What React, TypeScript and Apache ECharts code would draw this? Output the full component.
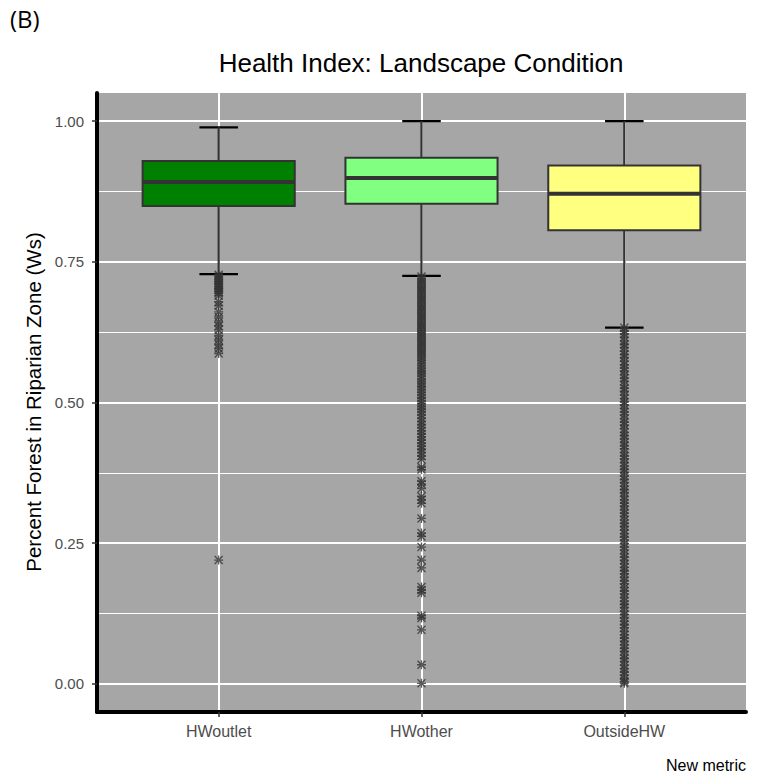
import React, { useEffect, useRef } from "react";
import * as echarts from "echarts";

const categories = ["HWoutlet", "HWother", "OutsideHW"];
const boxColors = ["#008000", "#80FF80", "#FFFF80"];
// [lowerWhisker, q1, median, q3, upperWhisker]
const boxStats = [
  [0.728, 0.849, 0.892, 0.929, 0.989],
  [0.725, 0.853, 0.899, 0.935, 1.0],
  [0.633, 0.806, 0.871, 0.921, 1.0],
];
const outliersHWoutlet = [
  0.727, 0.724, 0.721, 0.718, 0.715, 0.712, 0.709, 0.706, 0.703, 0.7, 0.697, 0.694, 0.69,
  0.679, 0.672, 0.661, 0.652, 0.643, 0.636, 0.629, 0.619, 0.611, 0.603, 0.596, 0.587, 0.22,
];
const outliersHWother = [
  0.724, 0.72, 0.716, 0.712, 0.708, 0.704, 0.7, 0.696, 0.692, 0.688, 0.684, 0.68, 0.676, 0.672,
  0.668, 0.664, 0.66, 0.656, 0.652, 0.648, 0.644, 0.64, 0.636, 0.632, 0.628, 0.624, 0.62, 0.616,
  0.612, 0.608, 0.604, 0.6, 0.596, 0.592, 0.588, 0.584, 0.58, 0.575, 0.57, 0.566, 0.561, 0.556,
  0.552, 0.547, 0.542, 0.537, 0.533, 0.528, 0.523, 0.518, 0.513, 0.508, 0.503, 0.498, 0.493,
  0.488, 0.483, 0.478, 0.472, 0.466, 0.461, 0.455, 0.45, 0.444, 0.439, 0.433, 0.428, 0.422,
  0.417, 0.411, 0.405, 0.399, 0.385, 0.381, 0.36, 0.355, 0.347, 0.333, 0.327, 0.321, 0.294,
  0.268, 0.262, 0.243, 0.22, 0.206, 0.172, 0.167, 0.162, 0.121, 0.117, 0.096, 0.034, 0.001,
];
const outliersOutsideHW = [
  0.633, 0.627, 0.622, 0.616, 0.609, 0.603, 0.598, 0.591, 0.585, 0.58, 0.573, 0.567, 0.561,
  0.556, 0.549, 0.543, 0.538, 0.531, 0.525, 0.52, 0.513, 0.507, 0.501, 0.496, 0.489, 0.483,
  0.478, 0.471, 0.465, 0.46, 0.453, 0.447, 0.441, 0.436, 0.429, 0.423, 0.418, 0.411, 0.405,
  0.4, 0.393, 0.387, 0.381, 0.376, 0.369, 0.363, 0.358, 0.351, 0.345, 0.34, 0.333, 0.327,
  0.321, 0.316, 0.309, 0.303, 0.298, 0.291, 0.285, 0.28, 0.273, 0.267, 0.261, 0.256, 0.249,
  0.243, 0.238, 0.231, 0.225, 0.22, 0.213, 0.207, 0.201, 0.196, 0.189, 0.183, 0.178, 0.171,
  0.165, 0.16, 0.153, 0.147, 0.141, 0.136, 0.129, 0.123, 0.118, 0.111, 0.105, 0.1, 0.093,
  0.087, 0.081, 0.076, 0.069, 0.063, 0.058, 0.051, 0.045, 0.04, 0.033, 0.027, 0.021, 0.016,
  0.009, 0.004, 0.001,
];
const yMajorTicks = [0, 0.25, 0.5, 0.75, 1.0];
const yMinorTicks = [0.125, 0.375, 0.625, 0.875];
const xPositions = [1, 2, 3];

const STAR =
  "path://M3.4,0h1.2v8h-1.2z M0,3.4h8v1.2h-8z M0.85,0L8,7.15L7.15,8L0,0.85z M7.15,0L8,0.85L0.85,8L0,7.15z";

export default function App() {
  const ref = useRef<HTMLDivElement>(null);
  useEffect(() => {
    const chart = echarts.init(ref.current!, null, { renderer: "svg" });
    const boxData = boxStats.map((s, i) => [xPositions[i], ...s, i]);
    const outlierData: number[][] = [];
    [outliersHWoutlet, outliersHWother, outliersOutsideHW].forEach((arr, i) =>
      arr.forEach((v) => outlierData.push([xPositions[i], v]))
    );
    const font = "'Liberation Sans', Arial, sans-serif";
    chart.setOption({
      animation: false,
      grid: {
        left: 97,
        right: 18,
        top: 93,
        bottom: 66,
        show: true,
        backgroundColor: "#A6A6A6",
        borderWidth: 0,
      },
      xAxis: {
        type: "value",
        min: 0.4,
        max: 3.6,
        axisLine: { show: true, onZero: false, lineStyle: { color: "#000", width: 4 } },
        axisTick: { show: true, customValues: xPositions, length: 5, lineStyle: { color: "#333", width: 1.5 } },
        axisLabel: {
          customValues: xPositions,
          formatter: (v: number) => categories[Math.round(v) - 1] ?? "",
          color: "#4D4D4D",
          fontSize: 16,
          fontFamily: font,
          margin: 11,
        },
        splitLine: { show: true, lineStyle: { color: "#FFFFFF", width: 2 } },
      },
      yAxis: [
        {
          type: "value",
          min: -0.05,
          max: 1.05,
          axisLine: { show: true, onZero: false, lineStyle: { color: "#000", width: 4 } },
          axisTick: { show: true, customValues: yMajorTicks, length: 5, lineStyle: { color: "#333", width: 1.5 } },
          axisLabel: {
            customValues: yMajorTicks,
            formatter: (v: number) => v.toFixed(2),
            color: "#4D4D4D",
            fontSize: 15,
            fontFamily: font,
            margin: 13,
          },
          splitLine: { show: true, lineStyle: { color: "#FFFFFF", width: 2 } },
        },
        {
          type: "value",
          min: -0.05,
          max: 1.05,
          position: "left",
          axisLine: { show: false },
          axisTick: { show: false, customValues: yMinorTicks },
          axisLabel: { show: false, customValues: yMinorTicks },
          splitLine: { show: true, lineStyle: { color: "#FFFFFF", width: 1 } },
        },
      ],
      graphic: [
        {
          type: "text",
          left: 10,
          top: 6,
          style: { text: "(B)", fontSize: 24, fontFamily: "'Open Sans', sans-serif", fill: "#000" },
        },
        {
          type: "text",
          x: 421,
          y: 63,
          style: {
            text: "Health Index: Landscape Condition",
            fontSize: 26,
            fontFamily: font,
            fill: "#000",
            align: "center",
            verticalAlign: "middle",
          },
        },
        {
          type: "text",
          x: 33,
          y: 402,
          rotation: Math.PI / 2,
          style: {
            text: "Percent Forest in Riparian Zone (Ws)",
            fontSize: 20.5,
            fontFamily: font,
            fill: "#000",
            align: "center",
            verticalAlign: "middle",
          },
        },
        {
          type: "text",
          x: 746,
          y: 765,
          style: {
            text: "New metric",
            fontSize: 16,
            fontFamily: font,
            fill: "#000",
            align: "right",
            verticalAlign: "middle",
          },
        },
      ],
      series: [
        {
          type: "custom",
          data: boxData,
          z: 2,
          renderItem: (params: any, api: any) => {
            const x = api.value(0);
            const lo = api.value(1);
            const q1 = api.value(2);
            const med = api.value(3);
            const q3 = api.value(4);
            const hi = api.value(5);
            const idx = api.value(6);
            const w = api.size([0.75, 0])[0];
            const cw = api.size([0.19, 0])[0];
            const pLo = api.coord([x, lo]);
            const pQ1 = api.coord([x, q1]);
            const pMed = api.coord([x, med]);
            const pQ3 = api.coord([x, q3]);
            const pHi = api.coord([x, hi]);
            const cx = pLo[0];
            const stroke = "#333333";
            return {
              type: "group",
              children: [
                { type: "line", shape: { x1: cx - cw / 2, y1: pHi[1], x2: cx + cw / 2, y2: pHi[1] }, style: { stroke: "#000", lineWidth: 2.2 } },
                { type: "line", shape: { x1: cx - cw / 2, y1: pLo[1], x2: cx + cw / 2, y2: pLo[1] }, style: { stroke: "#000", lineWidth: 2.2 } },
                { type: "line", shape: { x1: cx, y1: pHi[1], x2: cx, y2: pQ3[1] }, style: { stroke: stroke, lineWidth: 2.2 } },
                { type: "line", shape: { x1: cx, y1: pQ1[1], x2: cx, y2: pLo[1] }, style: { stroke: stroke, lineWidth: 2.2 } },
                {
                  type: "rect",
                  shape: { x: cx - w / 2, y: pQ3[1], width: w, height: pQ1[1] - pQ3[1] },
                  style: { fill: boxColors[idx], stroke: stroke, lineWidth: 2 },
                },
                { type: "line", shape: { x1: cx - w / 2, y1: pMed[1], x2: cx + w / 2, y2: pMed[1] }, style: { stroke: stroke, lineWidth: 4 } },
              ],
            };
          },
        },
        {
          type: "scatter",
          data: outlierData,
          symbol: STAR,
          symbolSize: 9,
          itemStyle: { color: "#333333" },
          z: 3,
        },
      ],
    });
    return () => chart.dispose();
  }, []);
  return <div ref={ref} style={{ width: 764, height: 778, position: "absolute", left: 0, top: 0 }} />;
}
